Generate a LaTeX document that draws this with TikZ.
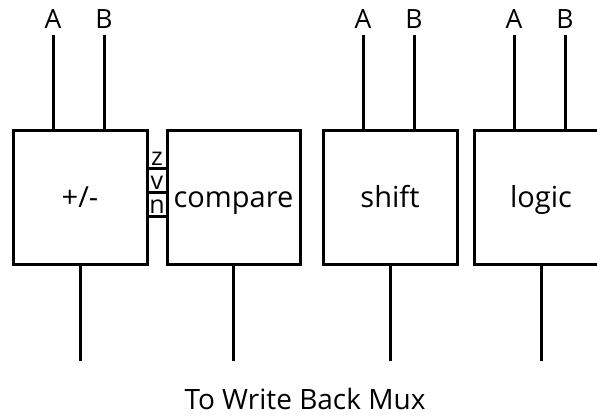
\documentclass[tikz,border=0pt]{standalone}
\usepackage{fontspec}
\setmainfont{Open Sans}
\begin{document}
\begin{tikzpicture}[x=1pt,y=-1pt,line width=3pt,
  unit/.style={draw,minimum width=134pt,minimum height=134pt,inner sep=0pt,text height=20pt,text depth=0pt,font=\fontsize{29}{30}\selectfont},
  lbl/.style={inner sep=0pt,font=\fontsize{26.5}{29}\selectfont},
  flag/.style={inner sep=0pt,font=\fontsize{25}{26}\selectfont}]
\clip (0,0) rectangle (597,415);
\useasboundingbox (0,0) rectangle (597,415);
% units
\node[unit] (b1) at (80,197) {+/-};
\node[unit,minimum width=133pt] (b2) at (233.5,197.5) {compare};
\node[unit] (b3) at (390,197.5) {shift};
\node[unit] (b4) at (541,197.5) {logic};
% inputs
\foreach \n/\x/\b in {a1/53/b1,c1/104/b1,a3/363/b3,c3/414/b3,a4/514/b4,c4/565/b4}{
  \coordinate (\n) at (\x,35);
  \draw (\n) -- (\n |- \b.north);
}
\node[lbl,anchor=base] (la1) at (a1 |- 0,28) {A};
\node[lbl,anchor=base] (lb1) at (c1 |- 0,28) {B};
\node[lbl,anchor=base] (la3) at (a3 |- 0,28) {A};
\node[lbl,anchor=base] (lb3) at (c3 |- 0,28) {B};
\node[lbl,anchor=base] (la4) at (a4 |- 0,28) {A};
\node[lbl,anchor=base] (lb4) at (c4 |- 0,28) {B};
% flags
\node[flag,anchor=base] (fz) at (157,165) {z};
\node[flag,anchor=base] (fv) at (157,189.5) {v};
\node[flag,anchor=base] (fn) at (157,213.5) {n};
\foreach \y [count=\i] in {168,192,216}{
  \coordinate (s\i) at (157,\y);
  \draw (s\i -| b1.east) -- (s\i -| b2.west);
}
% outputs
\foreach \b/\x in {b1/80,b2/233.5,b3/390,b4/541}{
  \coordinate (o\b) at (\x,361);
  \draw (\b.south) -- (o\b);
}
\node[lbl,anchor=base,font=\fontsize{28}{31}\selectfont] (mux) at (305,409) {To Write Back Mux};
\end{tikzpicture}
\end{document}
